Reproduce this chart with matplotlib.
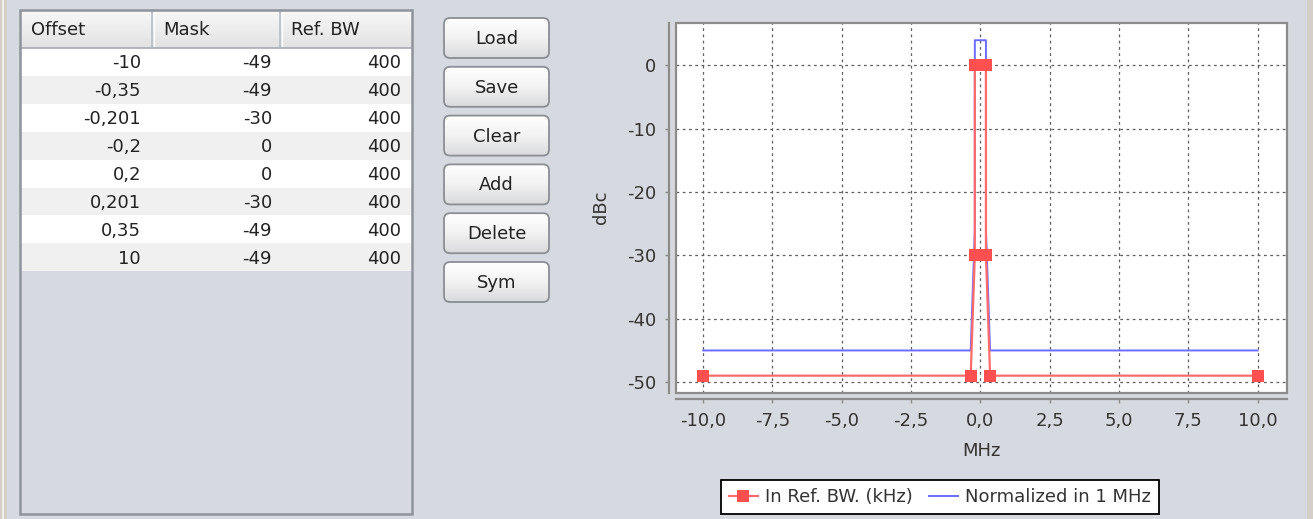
import matplotlib
matplotlib.use("Agg")
import matplotlib.pyplot as plt
import numpy as np
from matplotlib.patches import Rectangle, FancyBboxPatch
from matplotlib.colors import LinearSegmentedColormap
from matplotlib.ticker import FuncFormatter, MultipleLocator

# DATA
offsets = [-10, -0.35, -0.201, -0.2, 0.2, 0.201, 0.35, 10]
mask = [-49, -49, -30, 0, 0, -30, -49, -49]
ref_bw = [400, 400, 400, 400, 400, 400, 400, 400]
mask_1mhz = [-45.02, -45.02, -26.02, 3.98, 3.98, -26.02, -45.02, -45.02]
columns = ['Offset', 'Mask', 'Ref. BW']
buttons = ['Load', 'Save', 'Clear', 'Add', 'Delete', 'Sym']
series_names = ['In Ref. BW. (kHz)', 'Normalized in 1 MHz']

W, H = 1313, 519
BG = '#d6d9df'
TXT = '#222222'
FS = 13


def comma(v):
    return ('%g' % v).replace('.', ',')


fig = plt.figure(figsize=(W / 100, H / 100), dpi=100)
fig.patch.set_facecolor(BG)

# pixel canvas for the widgets (table, buttons)
bg = fig.add_axes([0, 0, 1, 1])
bg.set_xlim(0, W)
bg.set_ylim(H, 0)
bg.axis('off')

# window edges
bg.add_patch(Rectangle((0, 0), 7, H, color='#d4d0c8', lw=0))
bg.add_patch(Rectangle((2, 0), 1.5, H, color='#f2f0ea', lw=0))
bg.add_patch(Rectangle((1307, 0), 6, H, color='#d4d0c8', lw=0))

# TABLE
col_x = [20, 152, 280, 412]
val_right = [141, 272, 401]
head_top, head_bot = 10, 48
row_h = 27.9
head_cmap = LinearSegmentedColormap.from_list('head', ['#f8f8f8', '#e2e2e2'])
grad = np.linspace(0, 1, 64).reshape(-1, 1)
bg.imshow(grad, cmap=head_cmap, extent=(col_x[0], col_x[-1], head_bot, head_top),
          aspect='auto', origin='upper', zorder=1)
for x in col_x[1:-1]:
    bg.plot([x, x], [head_top, head_bot], color='#b8bcc2', lw=1.2, zorder=2)
    bg.plot([x + 1.5, x + 1.5], [head_top, head_bot], color='#ffffff', lw=1, zorder=2)
bg.plot([col_x[0], col_x[-1]], [head_bot, head_bot], color='#a8acb2', lw=1.2, zorder=2)
for j, name in enumerate(columns):
    bg.text(col_x[j] + 11, (head_top + head_bot) / 2 + 1, name, fontsize=FS, color=TXT,
            ha='left', va='center', zorder=3)

for i in range(len(offsets)):
    y0 = head_bot + i * row_h
    bg.add_patch(Rectangle((col_x[0], y0), col_x[-1] - col_x[0], row_h,
                           color='#ffffff' if i % 2 == 0 else '#f0f0f0', lw=0, zorder=1))
    row = [comma(offsets[i]), comma(mask[i]), comma(ref_bw[i])]
    for j, s in enumerate(row):
        bg.text(val_right[j], y0 + row_h / 2 + 1.5, s, fontsize=FS, color=TXT,
                ha='right', va='center', zorder=3)

bg.add_patch(Rectangle((20, 10), 392, 504, fill=False, ec='#8f949c', lw=1.8, zorder=4))

# BUTTONS
btn_cmap = LinearSegmentedColormap.from_list('btn', ['#ffffff', '#f2f2f2', '#d9dadc'])
bx, bw, bh = 444, 105, 40
for i, name in enumerate(buttons):
    by = 18 + 48.8 * i
    box = FancyBboxPatch((bx, by), bw, bh, boxstyle='round,pad=0,rounding_size=6',
                         fc='none', ec='#8a8e95', lw=1.3, zorder=3)
    bg.add_patch(box)
    im = bg.imshow(grad, cmap=btn_cmap, extent=(bx, bx + bw, by + bh, by),
                   aspect='auto', origin='upper', zorder=2)
    im.set_clip_path(box)
    bg.text(bx + bw / 2, by + bh / 2 + 1, name, fontsize=FS, color=TXT,
            ha='center', va='center', zorder=4)

bg.set_xlim(0, W)
bg.set_ylim(H, 0)

# CHART
L, R, T, B = 676, 1287, 23, 392.5
ax = fig.add_axes([L / W, 1 - B / H, (R - L) / W, (B - T) / H])
ax.set_facecolor('white')

ax.plot(offsets, mask_1mhz, color='#6b6bff', lw=1.4, label=series_names[1], zorder=2)
ax.plot(offsets, mask, color='#ff6b6b', lw=1.6, marker='s', ms=8.6,
        mfc='#ff4f4f', mec='#ff4f4f', mew=0, label=series_names[0], zorder=3)

ax.set_xlim(-10.98, 11.06)
ax.set_ylim(-51.66, 6.7)
ax.xaxis.set_major_locator(MultipleLocator(2.5))
ax.yaxis.set_major_locator(MultipleLocator(10))
ax.xaxis.set_major_formatter(FuncFormatter(lambda v, p: ('%.1f' % (round(v, 6) + 0.0)).replace('.', ',')))
ax.yaxis.set_major_formatter(FuncFormatter(lambda v, p: '%d' % round(v)))
ax.grid(True, color='#5f5f5f', lw=0.9, ls=(0, (2.2, 2.8)))
ax.set_axisbelow(True)

for s in ['top', 'right']:
    ax.spines[s].set_visible(False)
for s in ['left', 'bottom']:
    ax.spines[s].set_position(('outward', 5))
    ax.spines[s].set_color('#8c8c8c')
    ax.spines[s].set_linewidth(1.6)
ax.add_patch(Rectangle((0, 0), 1, 1, transform=ax.transAxes, fill=False,
                       ec='#8c8c8c', lw=1.6, clip_on=False, zorder=5))
ax.tick_params(length=3, width=1, color='#8c8c8c', labelsize=FS, labelcolor='#333333', pad=6)

ax.set_xlabel('MHz', fontsize=FS, color='#333333')
ax.xaxis.label.set_va('center')
ax.xaxis.set_label_coords(0.5, (B - 451) / (B - T))
ax.set_ylabel('dBc', fontsize=FS, color='#333333')
ax.yaxis.label.set_va('center')
ax.yaxis.set_label_coords((601 - L) / (R - L), 0.5)

h, l = ax.get_legend_handles_labels()
leg = fig.legend(h[::-1], l[::-1], loc='center', bbox_to_anchor=(940 / W, 1 - 497 / H), ncol=2,
                 fontsize=FS, frameon=True, fancybox=False, edgecolor='black', framealpha=1,
                 borderpad=0.45, handlelength=1.6, handletextpad=0.4, columnspacing=0.9)
leg.get_frame().set_linewidth(1.3)
for t in leg.get_texts():
    t.set_color('#333333')

fig.savefig('out.png', dpi=100, facecolor=fig.get_facecolor())
